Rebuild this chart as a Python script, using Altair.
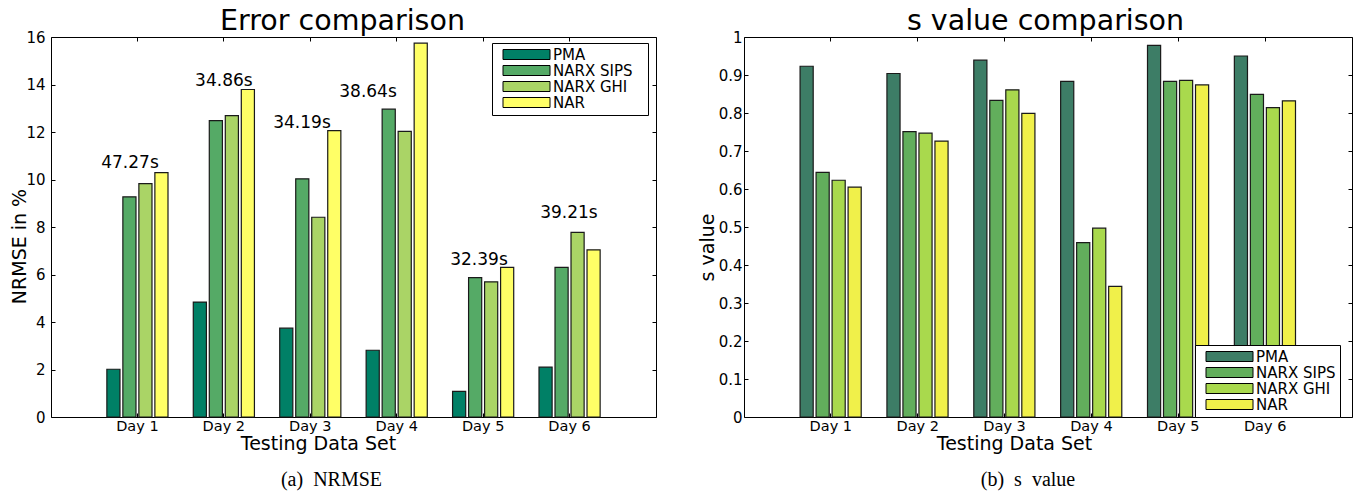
import altair as alt
import pandas as pd

FONT = "DejaVu Sans"
NBSP = "\u00a0"
BLANK = "\u2800"

days = ["Day 1", "Day 2", "Day 3", "Day 4", "Day 5", "Day 6"]
series = ["PMA", "NARX SIPS", "NARX GHI", "NAR"]

nrmse_pma = [2.01, 4.84, 3.74, 2.81, 1.08, 2.10]
nrmse_sips = [9.27, 12.48, 10.03, 12.96, 5.87, 6.30]
nrmse_ghi = [9.83, 12.69, 8.41, 12.03, 5.69, 7.77]
nrmse_nar = [10.29, 13.79, 12.06, 15.74, 6.30, 7.04]

s_pma = [0.923, 0.904, 0.939, 0.883, 0.978, 0.950]
s_sips = [0.644, 0.751, 0.833, 0.459, 0.883, 0.849]
s_ghi = [0.623, 0.747, 0.861, 0.497, 0.886, 0.814]
s_nar = [0.605, 0.726, 0.799, 0.344, 0.874, 0.832]

time_labels = ["47.27s", "34.86s", "34.19s", "38.64s", "32.39s", "39.21s"]
time_label_x = [0.914, 2.0, 2.904, 3.668, 4.952, 5.993]
time_label_y = [10.5, 13.93, 12.16, 13.47, 6.42, 8.4]

colors_a = ["#008066", "#55aa66", "#aad466", "#ffff66"]
colors_b = ["#3d7d66", "#62ae5c", "#a9d94d", "#f0f04a"]

nrmse_ticks = [0, 2, 4, 6, 8, 10, 12, 14, 16]
s_ticks = [0, 0.1, 0.2, 0.3, 0.4, 0.5, 0.6, 0.7, 0.8, 0.9, 1.0]


def long_df(cols):
    rows = []
    for s, vals in zip(series, cols):
        for d, v in zip(days, vals):
            rows.append({"day": d, "series": s, "value": v})
    return pd.DataFrame(rows)


def panel(df, colors, ydomain, yticks, ytitle, toptitle, caption, legend_x, legend_y,
          ytitle_x, ytitle_y, top_title_x, xtitle_x, label_pad, label_suffix, cap_dx):
    base = alt.Chart(df)
    bars = base.mark_bar(stroke="#1a1a1a", strokeWidth=1.2).encode(
        x=alt.X("day:N", sort=days, scale=alt.Scale(paddingInner=0, paddingOuter=0.5),
                axis=alt.Axis(orient="bottom", title="Testing Data Set", ticks=False, tickSize=0,
                              domain=False, labelAngle=0, labelFontSize=14.5, labelPadding=2,
                              titleFontSize=19, titleFontWeight="normal", titleX=xtitle_x, titleY=32.5,
                              titleAlign="center", titleBaseline="alphabetic", bandPosition=0.5)),
        xOffset=alt.XOffset("series:N", sort=series,
                            scale=alt.Scale(paddingInner=0.18, paddingOuter=0.79)),
        y=alt.Y("value:Q", scale=alt.Scale(domain=ydomain, nice=False, zero=True),
                axis=alt.Axis(orient="left", values=yticks, labelExpr="format(datum.value, '~g')",
                              ticks=False, tickSize=0, domain=False, grid=False, labelFontSize=15,
                              labelPadding=label_pad, title=ytitle, titleFontSize=19,
                              titleFontWeight="normal", titleX=ytitle_x, titleY=ytitle_y,
                              titleAngle=270, titleAlign="center", titleBaseline="alphabetic")),
        color=alt.Color("series:N", sort=series, scale=alt.Scale(domain=series, range=colors),
                        legend=alt.Legend(orient="none", legendX=legend_x, legendY=legend_y, title=None,
                                          direction="vertical", symbolType="M-4.7,-1H4.7V1H-4.7Z",
                                          symbolSize=100, symbolStrokeColor="black", symbolStrokeWidth=1,
                                          symbolOpacity=1, symbolOffset=23, labelOffset=19,
                                          labelFontSize=15, labelFont=FONT, labelColor="black",
                                          padding=4, rowPadding=-1.2, clipHeight=15, strokeColor="black",
                                          fillColor="white", cornerRadius=0,
                                          labelExpr="datum.label + '" + label_suffix + "'")),
    )
    top = base.mark_bar(opacity=0).encode(
        x=alt.X("day:N", sort=days,
                axis=alt.Axis(orient="top", labels=False, ticks=True, tickSize=4, offset=-4,
                              domain=False, bandPosition=0.5, title=toptitle, titleFontSize=28.5,
                              titleFontWeight="normal", titleX=top_title_x, titleY=-12,
                              titleAlign="center", titleBaseline="alphabetic")),
        y=alt.Y("value:Q", axis=alt.Axis(orient="right", labels=False, ticks=True, tickSize=4,
                                         offset=-4, domain=False, values=yticks, title=None,
                                         grid=False)),
    )
    bot = base.mark_bar(opacity=0).encode(
        x=alt.X("day:N", sort=days,
                axis=alt.Axis(orient="bottom", labels=False, ticks=True, tickSize=4, offset=-4,
                              domain=False, bandPosition=0.5, title=None)),
        y=alt.Y("value:Q", axis=alt.Axis(orient="left", labels=False, ticks=True, tickSize=4,
                                         offset=-4, domain=False, values=yticks, title=None,
                                         grid=False)),
    )
    inner = alt.layer(bars, top, bot).resolve_axis(x="independent", y="independent")
    return inner, alt.TitleParams(caption, orient="bottom", anchor="middle", frame="group",
                                  font="Liberation Serif", fontSize=20, fontWeight="normal",
                                  color="black", dx=cap_dx, offset=16, baseline="top")


left_inner, left_cap = panel(long_df([nrmse_pma, nrmse_sips, nrmse_ghi, nrmse_nar]), colors_a,
                             [0, 16], nrmse_ticks, "NRMSE in %", "Error comparison",
                             "(a)" + NBSP * 2 + "NRMSE",
                             441, 6, -26, 209, 291, 267, 6, BLANK, -22)

ann_df = pd.DataFrame({"lx": time_label_x, "ly": time_label_y, "label": time_labels})
ann = alt.Chart(ann_df).mark_text(font=FONT, fontSize=17, align="center", baseline="alphabetic",
                                  color="black").encode(
    x=alt.X("lx:Q", scale=alt.Scale(domain=[0, 7], nice=False, zero=False), axis=None),
    y=alt.Y("ly:Q", scale=alt.Scale(domain=[0, 16], nice=False), axis=None),
    text="label:N",
)
left = alt.layer(left_inner, ann).resolve_scale(x="independent").properties(
    width=605, height=380, title=left_cap)

right_inner, right_cap = panel(long_df([s_pma, s_sips, s_ghi, s_nar]), colors_b,
                               [0, 1], s_ticks, "s value", "s value comparison",
                               "(b)" + NBSP * 2 + "s" + NBSP * 2 + "value",
                               451, 308, -31, 210, 301, 270, 2, "", -20)
right = right_inner.properties(width=608, height=380, title=right_cap)

chart = alt.hconcat(left, right, spacing=88, bounds="flush").resolve_scale(
    color="independent").properties(
    padding={"left": 51, "top": 37, "right": 1312, "bottom": 75},
    autosize=alt.AutoSizeParams(type="none"),
    background="white",
).configure_axis(
    labelFont=FONT, titleFont=FONT, labelColor="black", titleColor="black",
    tickColor="black", tickWidth=1, grid=False,
).configure_view(stroke="black", strokeWidth=1)

chart.save("out.html", embed_options={"renderer": "svg", "actions": False})
